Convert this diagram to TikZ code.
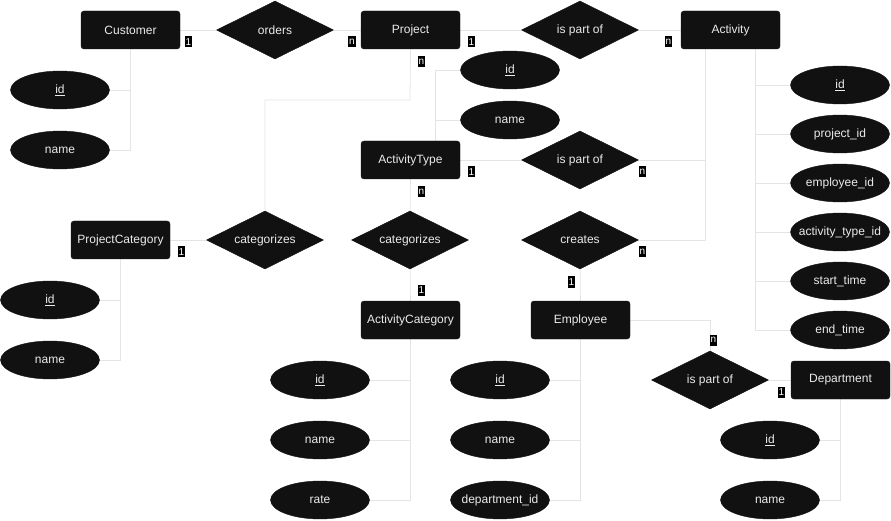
\documentclass[tikz,border=0pt]{standalone}
\usepackage{fontspec}
\setmainfont{Liberation Sans}
\usepackage{tikz}
\usetikzlibrary{shapes.geometric,positioning,backgrounds}
\definecolor{erfill}{RGB}{17,17,17}
\definecolor{ertext}{RGB}{235,235,235}
\definecolor{linkgray}{RGB}{228,228,228}
\newcommand{\attrtext}[1]{\makebox[60pt]{#1}}

\begin{document}
\begin{tikzpicture}[
    x=1pt,y=-1pt,
    entity/.style={rectangle,rounded corners=3pt,fill=erfill,draw=erfill,text=ertext,minimum width=99pt,minimum height=38pt,inner sep=0pt,font=\fontsize{12}{14}\selectfont},
    attrib/.style={ellipse,fill=erfill,draw=erfill,text=ertext,minimum width=99pt,minimum height=38pt,inner sep=0pt,font=\fontsize{12}{14}\selectfont},
    relation/.style={diamond,aspect=2,fill=erfill,draw=erfill,text=ertext,minimum width=117pt,minimum height=58pt,inner sep=0pt,font=\fontsize{12}{14}\selectfont},
    card/.style={rectangle,fill=black,text=white,inner sep=1pt,minimum width=7pt,minimum height=11pt,font=\fontsize{10}{10}\selectfont},
    link/.style={draw=linkgray,line width=0.8pt}
]
\useasboundingbox (0,0) rectangle (891,521);

% entities
\node[entity] (cust) at (130.5,30) {Customer};
\node[entity] (proj) at (410.5,30) {Project};
\node[entity] (act) at (730.5,30) {Activity};
\node[entity] (atype) at (410.5,160) {ActivityType};
\node[entity] (pcat) at (120.5,240) {ProjectCategory};
\node[entity] (acat) at (410.5,320) {ActivityCategory};
\node[entity] (emp) at (580.5,320) {Employee};
\node[entity] (dept) at (840.5,380) {Department};

% relations
\node[relation] (orders) at (275,30) {orders};
\node[relation] (partact) at (580,30) {is part of};
\node[relation] (parttype) at (580,160) {is part of};
\node[relation] (catproj) at (265,240) {categorizes};
\node[relation] (catact) at (410,240) {categorizes};
\node[relation] (creates) at (580,240) {creates};
\node[relation] (partdept) at (710,380) {is part of};

% attributes
\node[attrib] (custid) at (60,90) {\underline{id}};
\node[attrib] (custname) at (60,150) {name};
\node[attrib] (atypeid) at (510,70) {\underline{id}};
\node[attrib] (atypename) at (510,120) {name};
\node[attrib] (actid) at (840,85) {\underline{id}};
\node[attrib] (actproj) at (840,134) {project\_id};
\node[attrib] (actemp) at (840,183) {employee\_id};
\node[attrib] (acttype) at (840,232) {\attrtext{activity\_type\_id}};
\node[attrib] (actstart) at (840,281) {start\_time};
\node[attrib] (actend) at (840,330) {end\_time};
\node[attrib] (pcatid) at (50,300) {\underline{id}};
\node[attrib] (pcatname) at (50,360) {name};
\node[attrib] (acatid) at (320,380) {\underline{id}};
\node[attrib] (acatname) at (320,440) {name};
\node[attrib] (acatrate) at (320,500) {rate};
\node[attrib] (empid) at (500,380) {\underline{id}};
\node[attrib] (empname) at (500,440) {name};
\node[attrib] (empdept) at (500,500) {\attrtext{department\_id}};
\node[attrib] (deptid) at (770,440) {\underline{id}};
\node[attrib] (deptname) at (770,500) {name};

\coordinate (projbend) at (410,100);

\begin{scope}[on background layer]
% relationship links
\draw[link] (cust) -- (orders);
\draw[link] (orders) -- (proj);
\draw[link] (proj) -- (partact);
\draw[link] (partact) -- (act);
\draw[link] (proj.south) -- (projbend) -| (catproj.north);
\draw[link] (pcat) -- (catproj);
\draw[link] (atype) -- (parttype);
\draw[link] (parttype.east) -| ([xshift=-25.5pt]act.south);
\draw[link] (creates.east) -| ([xshift=-25.5pt]act.south);
\draw[link] (atype) -- (catact);
\draw[link] (catact) -- (acat);
\draw[link] (creates) -- (emp);
\draw[link] (emp.east) -| (partdept.north);
\draw[link] (partdept) -- (dept);

% attribute links
\foreach \a in {custid,custname} \draw[link] (cust.south) |- (\a.east);
\foreach \a in {atypeid,atypename} \draw[link] ([xshift=24.5pt]atype.north) |- (\a.west);
\foreach \a in {actid,actproj,actemp,acttype,actstart,actend} \draw[link] ([xshift=24.5pt]act.south) |- (\a.west);
\foreach \a in {pcatid,pcatname} \draw[link] (pcat.south) |- (\a.east);
\foreach \a in {acatid,acatname,acatrate} \draw[link] (acat.south) |- (\a.east);
\foreach \a in {empid,empname,empdept} \draw[link] (emp.south) |- (\a.east);
\foreach \a in {deptid,deptname} \draw[link] (dept.south) |- (\a.east);
\end{scope}

% cardinalities
\node[card] (c1) at (188.5,42) {1};
\node[card] (c2) at (352,42) {n};
\node[card] (c3) at (421.5,62) {n};
\node[card] (c4) at (471.5,42) {1};
\node[card] (c5) at (668.5,42) {n};
\node[card] (c6) at (471.5,172) {1};
\node[card] (c7) at (642.5,172) {n};
\node[card] (c8) at (642.5,252) {n};
\node[card] (c9) at (571.5,282) {1};
\node[card] (c10) at (421.5,192) {n};
\node[card] (c11) at (421.5,290.5) {1};
\node[card] (c12) at (181.5,252) {1};
\node[card] (c13) at (713.5,340) {n};
\node[card] (c14) at (781.5,392) {1};
\end{tikzpicture}
\end{document}
